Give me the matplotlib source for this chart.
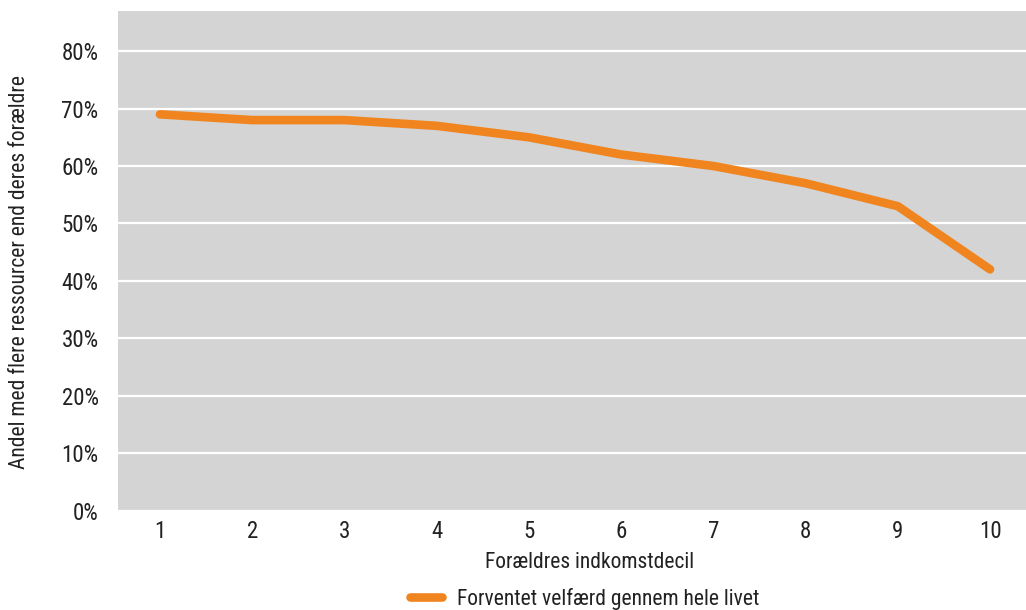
import matplotlib
matplotlib.use("Agg")
import matplotlib.pyplot as plt
from matplotlib.ticker import PercentFormatter

plt.rcParams['font.family'] = ['Roboto Condensed', 'Liberation Sans Narrow', 'Roboto', 'DejaVu Sans']

# Data
deciles = [1, 2, 3, 4, 5, 6, 7, 8, 9, 10]
andel = [0.69, 0.68, 0.68, 0.67, 0.65, 0.62, 0.60, 0.57, 0.53, 0.42]
y_ticks = [0.0, 0.1, 0.2, 0.3, 0.4, 0.5, 0.6, 0.7, 0.8]

series_label = "Forventet velfærd gennem hele livet"
x_label = "Forældres indkomstdecil"
y_label = "Andel med flere ressourcer end deres forældre"

orange = "#f08520"
text_col = "#222222"

fig = plt.figure(figsize=(10.26, 6.10), dpi=100)
ax = fig.add_axes([118 / 1026, 1 - 510.5 / 610, 1 - 118 / 1026, (510.5 - 11) / 610])
ax.set_facecolor("#d4d4d4")

ax.plot(deciles, andel, color=orange, linewidth=6.2, solid_capstyle='round',
        solid_joinstyle='round', label=series_label, zorder=3)

ax.set_xlim(0.545, 10.39)
ax.set_ylim(0, 0.87)
ax.set_xticks(deciles)
ax.set_yticks(y_ticks)
ax.yaxis.set_major_formatter(PercentFormatter(1.0, decimals=0))
ax.grid(axis='y', color='white', linewidth=1.6)
ax.set_axisbelow(True)
for s in ax.spines.values():
    s.set_visible(False)
ax.tick_params(length=0, labelsize=16.5, colors=text_col)
ax.tick_params(axis='y', pad=14)
ax.tick_params(axis='x', pad=7)

ax.set_xlabel(x_label, fontsize=15.5, color=text_col)
ax.xaxis.set_label_coords((590 - 118) / 908, -(552 - 510.5) / 499.5)
ax.set_ylabel(y_label, fontsize=15.5, color=text_col)
ax.yaxis.set_label_coords(-(118 - 30) / 908, (510.5 - 272) / 499.5)

fig.legend(loc='center', bbox_to_anchor=(585 / 1026, 1 - 599 / 610), frameon=False,
           fontsize=15.5, handlelength=1.5, handletextpad=0.7, labelcolor=text_col)

fig.savefig("out.png", dpi=100)
